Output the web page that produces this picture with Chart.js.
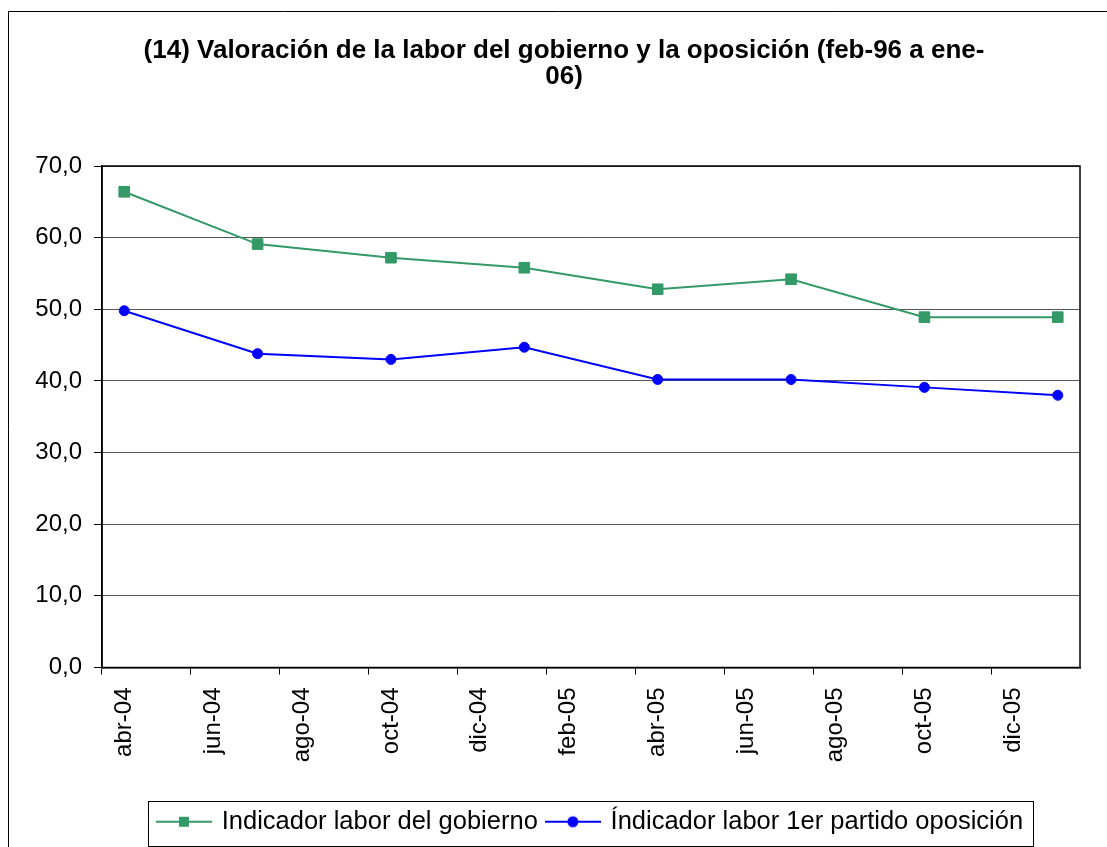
<!DOCTYPE html>
<html>
<head>
<meta charset="utf-8">
<script src="https://cdn.jsdelivr.net/npm/chart.js@4.4.1/dist/chart.umd.min.js"></script>
<style>
  html, body { margin: 0; padding: 0; background: #fff; overflow: hidden; }
  canvas { display: block; }
</style>
</head>
<body>
<canvas id="c" width="1107" height="847"></canvas>
<script>
// ---- data ----
const titleLines = ['(14) Valoración de la labor del gobierno y la oposición (feb-96 a ene-', '06)'];
const axisMonths = ['abr-04','may-04','jun-04','jul-04','ago-04','sep-04','oct-04','nov-04','dic-04','ene-05','feb-05','mar-05',
                    'abr-05','may-05','jun-05','jul-05','ago-05','sep-05','oct-05','nov-05','dic-05','ene-06'];
const surveyMonths = ['abr-04','jul-04','oct-04','ene-05','abr-05','jul-05','oct-05','ene-06'];
const gobierno  = [66.4, 59.1, 57.2, 55.8, 52.8, 54.2, 48.9, 48.9];
const oposicion = [49.8, 43.8, 43.0, 44.7, 40.2, 40.2, 39.1, 38.0];
const seriesNames = ['Indicador labor del gobierno', 'Índicador labor 1er partido oposición'];
const yTicks = [0, 10, 20, 30, 40, 50, 60, 70];

const GREEN = '#339966';
const BLUE = '#0000FF';
const FONT = "'Liberation Sans', Arial, Helvetica, sans-serif";

function legendImage(color, shape) {
  const cv = document.createElement('canvas');
  cv.width = 56; cv.height = 14;
  const g = cv.getContext('2d');
  g.strokeStyle = color; g.lineWidth = 2;
  g.beginPath(); g.moveTo(0, 7); g.lineTo(56, 7); g.stroke();
  g.fillStyle = color;
  if (shape === 'rect') { g.fillRect(28 - 5, 7 - 5, 10, 10); }
  else { g.beginPath(); g.arc(28, 7, 5.5, 0, Math.PI * 2); g.fill(); }
  return cv;
}
const legendImgs = [legendImage(GREEN, 'rect'), legendImage(BLUE, 'circle')];

const frame = {
  id: 'frame',
  beforeDraw(chart) {
    const c = chart.ctx;
    c.save();
    c.fillStyle = '#fff';
    c.fillRect(0, 0, chart.width, chart.height);
    c.strokeStyle = '#000'; c.lineWidth = 1;
    c.beginPath();
    c.moveTo(8.5, chart.height + 5); c.lineTo(8.5, 11.5); c.lineTo(chart.width + 5, 11.5);
    c.stroke();
    c.restore();
  },
  afterDraw(chart) {
    const c = chart.ctx;
    const a = chart.chartArea;
    c.save();
    c.strokeStyle = '#000'; c.lineWidth = 1.5;
    c.strokeRect(a.left, a.top, a.right - a.left, a.bottom - a.top);
    // legend box
    const hb = chart.legend.legendHitBoxes;
    if (hb && hb.length) {
      let l = Infinity, r = -Infinity, t = Infinity, b = -Infinity;
      hb.forEach(h => { l = Math.min(l, h.left); r = Math.max(r, h.left + h.width); t = Math.min(t, h.top); b = Math.max(b, h.top + h.height); });
      const x0 = Math.round(l - 11) + 0.5, x1 = Math.round(r + 10) + 0.5;
      const y0 = Math.round(t - 8) + 0.5, y1 = Math.min(Math.round(b + 11) + 0.5, chart.height - 0.5);
      c.lineWidth = 1; c.strokeStyle = '#000';
      c.strokeRect(x0, y0, x1 - x0, y1 - y0);
    }
    c.restore();
  }
};

const toPoints = vals => surveyMonths.map((m, i) => ({ x: m, y: vals[i] }));

new Chart(document.getElementById('c'), {
  type: 'line',
  data: {
    labels: axisMonths,
    datasets: [
      { label: seriesNames[0], data: toPoints(gobierno), borderColor: GREEN, backgroundColor: GREEN,
        borderWidth: 2, pointStyle: 'rect', pointRadius: 7.5, pointBorderWidth: 1, pointBorderColor: GREEN,
        pointBackgroundColor: GREEN, tension: 0, yAxisID: 'y' },
      { label: seriesNames[1], data: toPoints(oposicion), borderColor: BLUE, backgroundColor: BLUE,
        borderWidth: 2, pointStyle: 'circle', pointRadius: 5, pointBorderWidth: 1, pointBorderColor: BLUE,
        pointBackgroundColor: BLUE, tension: 0, yAxisID: 'y' }
    ]
  },
  options: {
    responsive: false,
    animation: false,
    devicePixelRatio: 1,
    layout: { padding: { left: 21, right: 0, top: 0, bottom: 2.5 } },
    plugins: {
      tooltip: { enabled: false },
      title: {
        display: true, text: titleLines, color: '#000',
        font: { family: FONT, size: 26, weight: 'bold', lineHeight: '26px' },
        padding: { top: 38, bottom: 76 }
      },
      legend: {
        position: 'bottom', fullSize: false,
        labels: {
          color: '#000', font: { family: FONT, size: 25.5 }, usePointStyle: true, pointStyleWidth: 50,
          padding: 10,
          generateLabels(chart) {
            const items = Chart.defaults.plugins.legend.labels.generateLabels(chart);
            items.forEach((it, i) => { it.pointStyle = legendImgs[i]; });
            return items;
          }
        }
      }
    },
    scales: {
      x: {
        type: 'category', offset: true,
        grid: {
          offset: true, drawOnChartArea: false, drawTicks: true, tickLength: 7, lineWidth: 1,
          color: ctx => (ctx.index % 2 === 0 ? '#000' : 'rgba(0,0,0,0)')
        },
        border: { display: true, color: '#000', width: 1.5 },
        ticks: {
          autoSkip: false, minRotation: 90, maxRotation: 90, padding: 13, color: '#000',
          font: { family: FONT, size: 24 },
          callback: function (v, i) { return i % 2 === 0 ? this.getLabelForValue(v) : ''; }
        },
        afterFit(s) { s.height = 131.5; }
      },
      y: {
        position: 'left', min: 0, max: 70,
        afterBuildTicks(s) { s.ticks = yTicks.map(v => ({ value: v })); },
        grid: { color: '#555', lineWidth: 1, drawTicks: true, tickLength: 8, tickColor: '#000' },
        border: { display: true, color: '#000', width: 1.5 },
        ticks: {
          padding: 12, color: '#000', font: { family: FONT, size: 24 },
          callback: v => v.toFixed(1).replace('.', ',')
        },
        afterFit(s) { s.width = 81; }
      },
      yR: {
        position: 'right', display: true,
        grid: { display: false, drawTicks: false },
        border: { display: false },
        ticks: { display: false },
        afterFit(s) { s.width = 27; }
      }
    }
  },
  plugins: [frame]
});
</script>
</body>
</html>
